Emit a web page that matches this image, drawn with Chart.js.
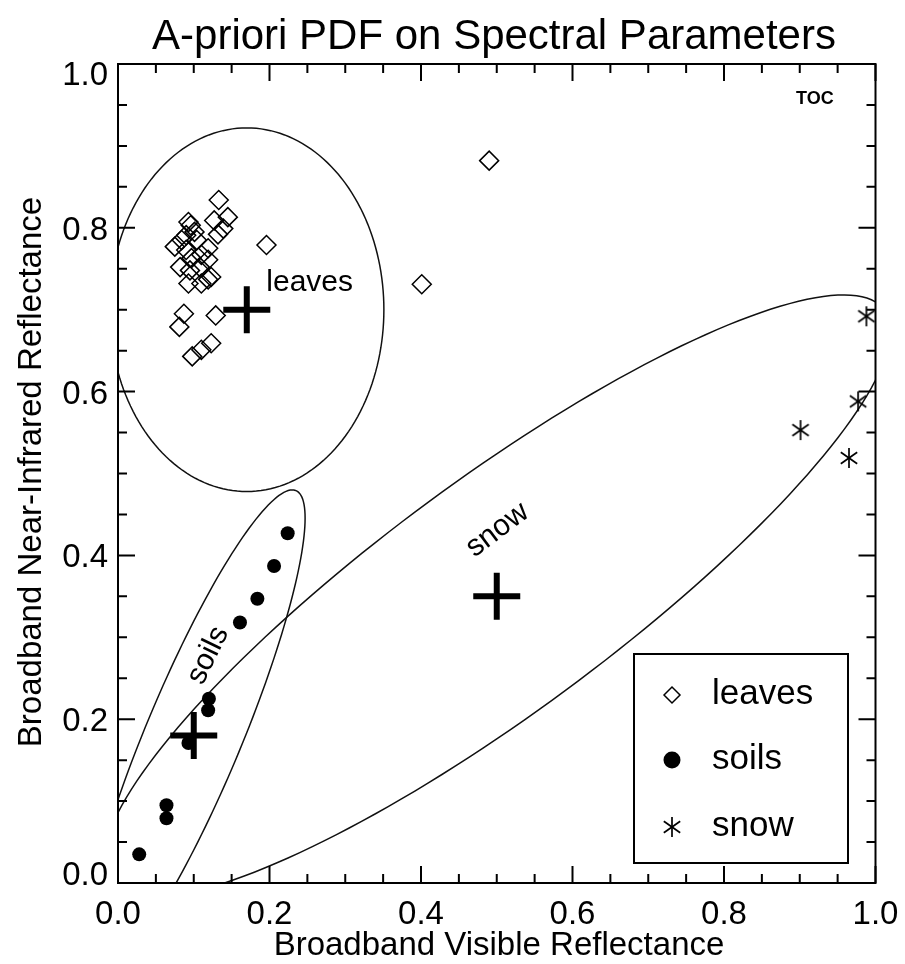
<!DOCTYPE html>
<html>
<head>
<meta charset="utf-8">
<script src="https://cdn.jsdelivr.net/npm/chart.js@4.4.0/dist/chart.umd.min.js"></script>
<style>
  html, body { margin: 0; padding: 0; background: #fff; }
</style>
</head>
<body>
<canvas id="chart" width="905" height="964"></canvas>
<script>
// measured points (visible / NIR reflectance)
const leavesX = [0.133, 0.145, 0.127, 0.139, 0.132, 0.096, 0.093, 0.101, 0.090, 0.196, 0.075, 0.084,
                 0.104, 0.090, 0.119, 0.097, 0.119, 0.110, 0.082, 0.108, 0.095, 0.123, 0.093, 0.110,
                 0.119, 0.087, 0.129, 0.081, 0.123, 0.110, 0.098, 0.401, 0.490];
const leavesY = [0.834, 0.813, 0.809, 0.799, 0.792, 0.803, 0.807, 0.795, 0.791, 0.779, 0.777, 0.785,
                 0.785, 0.773, 0.775, 0.763, 0.761, 0.767, 0.752, 0.752, 0.748, 0.740, 0.732, 0.732,
                 0.737, 0.695, 0.693, 0.679, 0.659, 0.651, 0.643, 0.731, 0.882];
const soilsX = [0.224, 0.206, 0.184, 0.161, 0.120, 0.119, 0.093, 0.064, 0.064, 0.028];
const soilsY = [0.427, 0.387, 0.347, 0.318, 0.225, 0.211, 0.171, 0.095, 0.079, 0.035];
const snowX = [0.988, 0.977, 0.901, 0.965];
const snowY = [0.692, 0.588, 0.553, 0.519];

// a-priori PDF per class: mean, spread, correlation
const classes = ['leaves', 'soils', 'snow'];
const meanX = [0.17, 0.10, 0.50];
const meanY = [0.70, 0.18, 0.35];
const sigX = [0.181, 0.147, 0.520];
const sigY = [0.222, 0.300, 0.368];
const rho = [0.0, 0.885, 0.881];

// in-plot class labels
const labelX = [0.253, 0.119, 0.501];
const labelY = [0.733, 0.278, 0.431];
const labelAngle = [0, -64, -37];

const xTicks = [0.0, 0.2, 0.4, 0.6, 0.8, 1.0];
const yTicks = [0.0, 0.2, 0.4, 0.6, 0.8, 1.0];
const minorStep = 0.05;

const FONT = '"Liberation Sans", Arial, Helvetica, sans-serif';

function asterisk(r) {
  const c = document.createElement('canvas');
  c.width = c.height = 2 * r + 2;
  const g = c.getContext('2d');
  g.strokeStyle = '#000';
  g.lineWidth = 1.7;
  const m = r + 1;
  [90, 35, 145].forEach(deg => {
    const a = deg * Math.PI / 180;
    g.beginPath();
    g.moveTo(m - r * Math.cos(a), m - r * Math.sin(a));
    g.lineTo(m + r * Math.cos(a), m + r * Math.sin(a));
    g.stroke();
  });
  return c;
}
const starImg = asterisk(10);

const toPts = (xs, ys) => xs.map((v, i) => ({ x: v, y: ys[i] }));

const ellipses = {
  id: 'ellipses',
  beforeDatasetsDraw(chart) {
    const { ctx, chartArea: a, scales: { x, y } } = chart;
    ctx.save();
    ctx.beginPath();
    ctx.rect(a.left, a.top, a.right - a.left, a.bottom - a.top);
    ctx.clip();
    ctx.strokeStyle = '#111';
    ctx.lineWidth = 1.5;
    for (let k = 0; k < classes.length; k++) {
      const s = Math.sqrt(1 - rho[k] * rho[k]);
      ctx.beginPath();
      for (let d = 0; d <= 360; d += 2) {
        const u = Math.cos(d * Math.PI / 180), v = Math.sin(d * Math.PI / 180);
        const px = x.getPixelForValue(meanX[k] + sigX[k] * u);
        const py = y.getPixelForValue(meanY[k] + sigY[k] * (rho[k] * u + s * v));
        if (d === 0) ctx.moveTo(px, py); else ctx.lineTo(px, py);
      }
      ctx.closePath();
      ctx.stroke();
    }
    // class names
    ctx.fillStyle = '#000';
    ctx.textAlign = 'center';
    ctx.textBaseline = 'middle';
    for (let k = 0; k < classes.length; k++) {
      ctx.save();
      ctx.translate(x.getPixelForValue(labelX[k]), y.getPixelForValue(labelY[k]));
      ctx.rotate(labelAngle[k] * Math.PI / 180);
      ctx.font = '30px ' + FONT;
      ctx.fillText(classes[k], 0, 0);
      ctx.restore();
    }
    ctx.font = 'bold 18px ' + FONT;
    ctx.fillText('TOC', x.getPixelForValue(0.92), y.getPixelForValue(0.957));
    ctx.restore();
  },
  afterDraw(chart) {
    const { ctx, chartArea: a, scales: { x, y } } = chart;
    ctx.save();
    ctx.strokeStyle = '#000';
    ctx.fillStyle = '#000';
    ctx.lineWidth = 2;
    ctx.strokeRect(a.left, a.top, a.right - a.left, a.bottom - a.top);

    // inward ticks on all four sides
    ctx.beginPath();
    for (let i = 0; i <= 20; i++) {
      const v = i * minorStep;
      const len = i % 4 === 0 ? 17 : 9;
      const px = x.getPixelForValue(v), py = y.getPixelForValue(v);
      ctx.moveTo(px, a.bottom); ctx.lineTo(px, a.bottom - len);
      ctx.moveTo(px, a.top); ctx.lineTo(px, a.top + len);
      ctx.moveTo(a.left, py); ctx.lineTo(a.left + len, py);
      ctx.moveTo(a.right, py); ctx.lineTo(a.right - len, py);
    }
    ctx.stroke();

    // tick labels
    ctx.font = '33px ' + FONT;
    ctx.textBaseline = 'alphabetic';
    ctx.textAlign = 'center';
    xTicks.forEach(v => ctx.fillText(v.toFixed(1), x.getPixelForValue(v), 924));
    ctx.textAlign = 'right';
    yTicks.forEach(v => {
      let py = y.getPixelForValue(v);
      py = Math.min(Math.max(py, a.top + 9), a.bottom - 10);
      ctx.fillText(v.toFixed(1), 108, py + 12);
    });

    // axis titles and main title
    ctx.textAlign = 'center';
    ctx.fillText('Broadband Visible Reflectance', 499, 955);
    ctx.save();
    ctx.translate(41, 472);
    ctx.rotate(-Math.PI / 2);
    ctx.fillText('Broadband Near-Infrared Reflectance', 0, 0);
    ctx.restore();
    ctx.font = '42px ' + FONT;
    ctx.fillText('A-priori PDF on Spectral Parameters', 494, 49);

    // legend box
    const lx = 634, ly = 654, lw = 214, lh = 209;
    ctx.fillStyle = '#fff';
    ctx.fillRect(lx, ly, lw, lh);
    ctx.strokeRect(lx, ly, lw, lh);
    ctx.fillStyle = '#000';
    ctx.font = '35px ' + FONT;
    ctx.textAlign = 'left';
    const rows = [695, 760, 827];
    const ds = chart.data.datasets;
    classes.forEach((name, i) => {
      const cy = rows[i];
      const d = ds[i];
      ctx.lineWidth = d.borderWidth;
      if (d.pointStyle === 'rectRot') {
        const r = 8;
        ctx.beginPath();
        ctx.moveTo(672 - r, cy); ctx.lineTo(672, cy - r); ctx.lineTo(672 + r, cy); ctx.lineTo(672, cy + r);
        ctx.closePath();
        ctx.stroke();
      } else if (d.pointStyle === 'circle') {
        ctx.beginPath();
        ctx.arc(672, cy, 8.5, 0, Math.PI * 2);
        ctx.fill();
      } else {
        ctx.drawImage(starImg, 672 - starImg.width / 2, cy - starImg.height / 2);
      }
      ctx.fillText(name, 712, cy + 9);
    });
    ctx.restore();
  }
};

new Chart(document.getElementById('chart'), {
  type: 'scatter',
  data: {
    datasets: [
      { label: 'leaves', data: toPts(leavesX, leavesY), pointStyle: 'rectRot', pointRadius: 9.5,
        borderWidth: 1.5, borderColor: '#000', backgroundColor: 'rgba(0,0,0,0)' },
      { label: 'soils', data: toPts(soilsX, soilsY), pointStyle: 'circle', pointRadius: 7,
        borderWidth: 0, borderColor: '#000', backgroundColor: '#000' },
      { label: 'snow', data: toPts(snowX, snowY), pointStyle: starImg, pointRadius: 10,
        borderWidth: 1.7, borderColor: '#000' },
      { label: 'prior mean', data: toPts(meanX, meanY), pointStyle: 'cross', pointRadius: 23.5,
        borderWidth: 6, borderColor: '#000', backgroundColor: '#000' }
    ]
  },
  options: {
    responsive: false,
    devicePixelRatio: 1,
    animation: false,
    events: [],
    layout: { padding: { left: 118, right: 28, top: 64, bottom: 81 } },
    scales: {
      x: { type: 'linear', min: 0, max: 1, display: false },
      y: { type: 'linear', min: 0, max: 1, display: false }
    },
    plugins: {
      legend: { display: false },
      tooltip: { enabled: false },
      title: { display: false }
    }
  },
  plugins: [ellipses]
});
</script>
</body>
</html>
